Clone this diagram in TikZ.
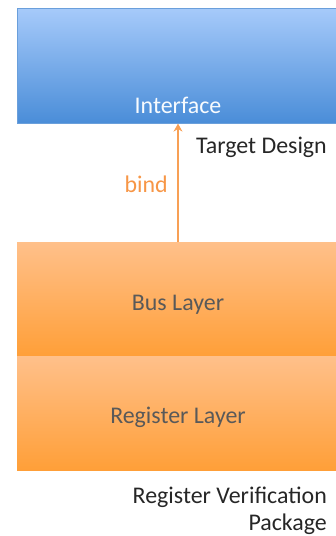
\documentclass[tikz,border=0pt]{standalone}
\usepackage{fontspec}
\setmainfont{Carlito}
\usetikzlibrary{arrows.meta}
\definecolor{bluetop}{HTML}{A6CAFA}
\definecolor{bluebot}{HTML}{4A8DD8}
\definecolor{bluedraw}{HTML}{6A9FDB}
\definecolor{orgtop}{HTML}{FFC08A}
\definecolor{orgbot}{HTML}{FF9F38}
\definecolor{orgline}{HTML}{F8A055}
\definecolor{orgtext}{HTML}{F79646}
\definecolor{graytext}{HTML}{595959}
\begin{document}
\begin{tikzpicture}[x=1bp,y=-1bp,
  font=\fontsize{24}{27}\selectfont,
  bluebox/.style={draw=bluedraw,line width=0.6bp,top color=bluetop,bottom color=bluebot,minimum width=320bp,minimum height=115bp,inner sep=0pt,anchor=north west},
  orgbox/.style={draw=none,top color=orgtop,bottom color=orgbot,minimum width=320bp,minimum height=114bp,inner sep=0pt,anchor=north west},
  lbl/.style={inner sep=0pt,anchor=base}]
\useasboundingbox (0,0) rectangle (335,536);
\node[bluebox] (iface) at (17,8) {};
\node[orgbox] (bus) at (17,242) {};
\node[orgbox] (reg) at (17,356) {};
\node[lbl,text=white!92!bluetop] (ifacet) at (178,114) {Interface};
\node[lbl,text=graytext] (bust) at (178,310) {Bus Layer};
\node[lbl,text=graytext] (regt) at (178,423) {Register Layer};
\node[inner sep=0pt,anchor=base east,text=black!85] (td) at (327,154) {Target Design};
\node[inner sep=0pt,anchor=base east,text=orgtext] (bind) at (168,193) {bind};
\node[inner sep=0pt,anchor=base east,text=black!85] (rvp1) at (327,503) {Register Verification};
\node[inner sep=0pt,anchor=base east,text=black!85] (rvp2) at (327,530) {Package};
\draw[orgline,line width=2bp,-{Stealth[length=8bp,width=9bp]}] (bus.north -| ifacet) -- (iface.south -| ifacet);
\end{tikzpicture}
\end{document}
